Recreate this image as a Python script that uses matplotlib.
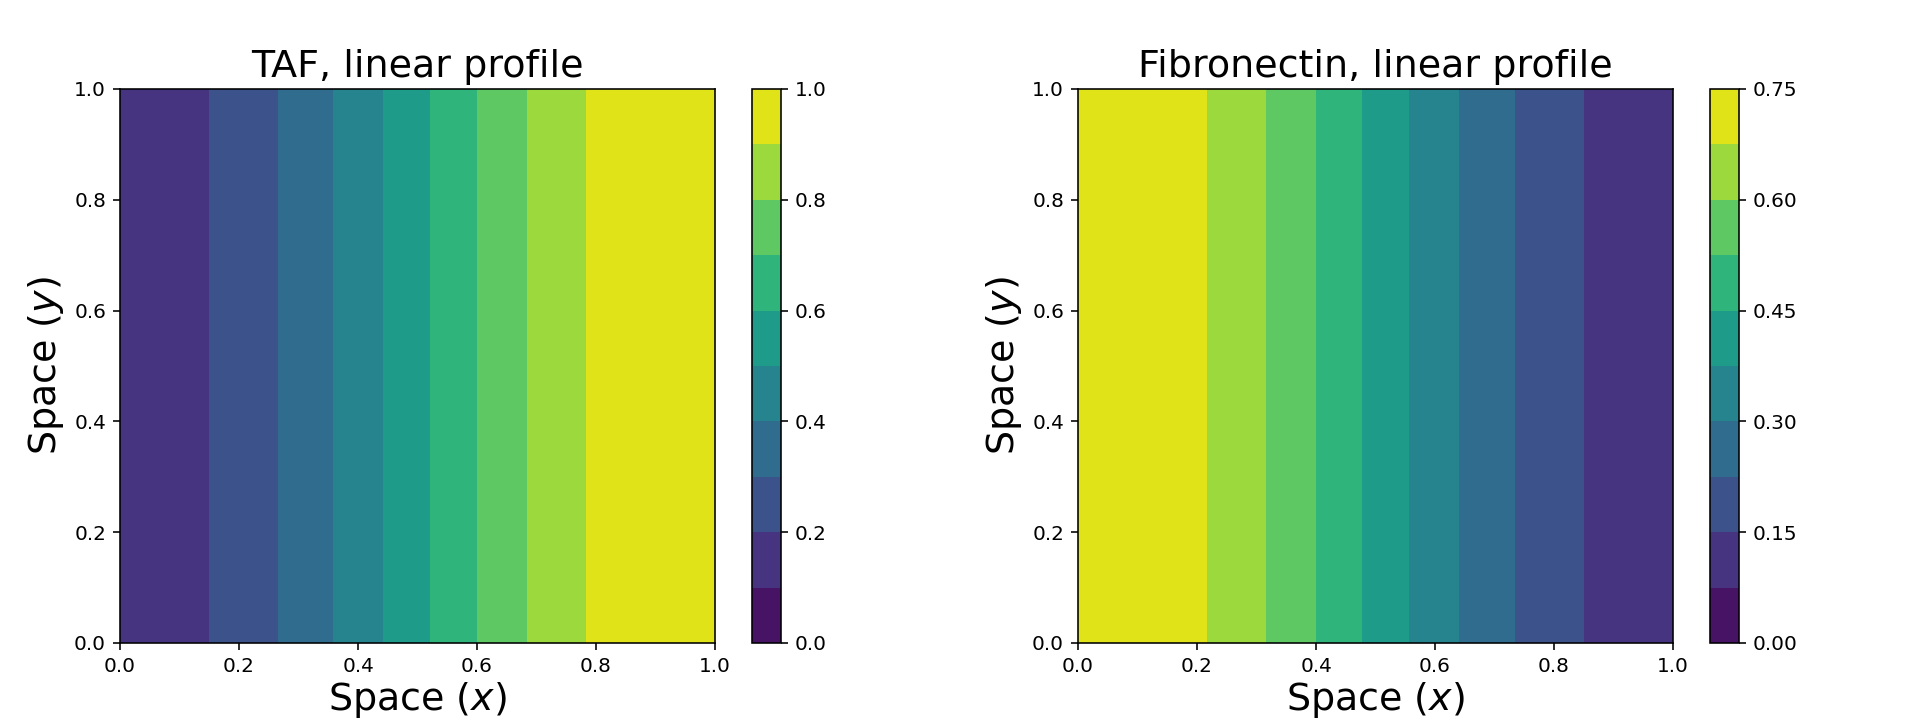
import numpy as np
import matplotlib
matplotlib.use("Agg")
import matplotlib.pyplot as plt

# TAF profile along x (constant in y)
taf_x = [0.0, 0.1495, 0.265, 0.3587, 0.4426, 0.5217, 0.5998, 0.6837, 0.783, 1.0]
taf_c = [0.11, 0.2, 0.3, 0.4, 0.5, 0.6, 0.7, 0.8, 0.9, 0.995]
taf_levels = [0.0, 0.1, 0.2, 0.3, 0.4, 0.5, 0.6, 0.7, 0.8, 0.9, 1.0]
taf_ticks = [0.0, 0.2, 0.4, 0.6, 0.8, 1.0]

# Fibronectin profile along x (constant in y)
fib_x = [0.0, 0.217, 0.316, 0.400, 0.478, 0.557, 0.641, 0.735, 0.8505, 1.0]
fib_c = [0.746, 0.675, 0.6, 0.525, 0.45, 0.375, 0.3, 0.225, 0.15, 0.082]
fib_levels = [0.0, 0.075, 0.15, 0.225, 0.3, 0.375, 0.45, 0.525, 0.6, 0.675, 0.75]
fib_ticks = [0.0, 0.15, 0.30, 0.45, 0.60, 0.75]

y_pts = [0.0, 1.0]
axis_ticks = [0.0, 0.2, 0.4, 0.6, 0.8, 1.0]

W, H, DPI = 1916, 722, 144
fig = plt.figure(figsize=(W / DPI, H / DPI), dpi=DPI)

def px(l, r, t, b):
    return [l / W, (H - b) / H, (r - l) / W, (b - t) / H]

panels = [
    (taf_x, taf_c, taf_levels, taf_ticks, "TAF, linear profile", 120, 752),
    (fib_x, fib_c, fib_levels, fib_ticks, "Fibronectin, linear profile", 1078, 1710),
]

for xs, cs, levels, cticks, title, axl, cbl in panels:
    ax = fig.add_axes(px(axl, axl + 595, 89, 643))
    cax = fig.add_axes(px(cbl, cbl + 29, 89, 643))
    X, Y = np.meshgrid(np.array(xs), np.array(y_pts))
    Z = np.tile(np.array(cs), (len(y_pts), 1))
    cf = ax.contourf(X, Y, Z, levels=levels, cmap="viridis", antialiased=True)
    ax.set_xlim(0, 1)
    ax.set_ylim(0, 1)
    ax.set_xticks(axis_ticks)
    ax.set_yticks(axis_ticks)
    ax.tick_params(labelsize=10)
    ax.set_title(title, fontsize=19)
    ax.set_xlabel("Space ($x$)", fontsize=19, labelpad=2)
    ax.set_ylabel("Space ($y$)", fontsize=19)
    cb = fig.colorbar(cf, cax=cax, ticks=cticks)
    cb.ax.tick_params(labelsize=10)

fig.savefig("out.png", dpi=DPI)
